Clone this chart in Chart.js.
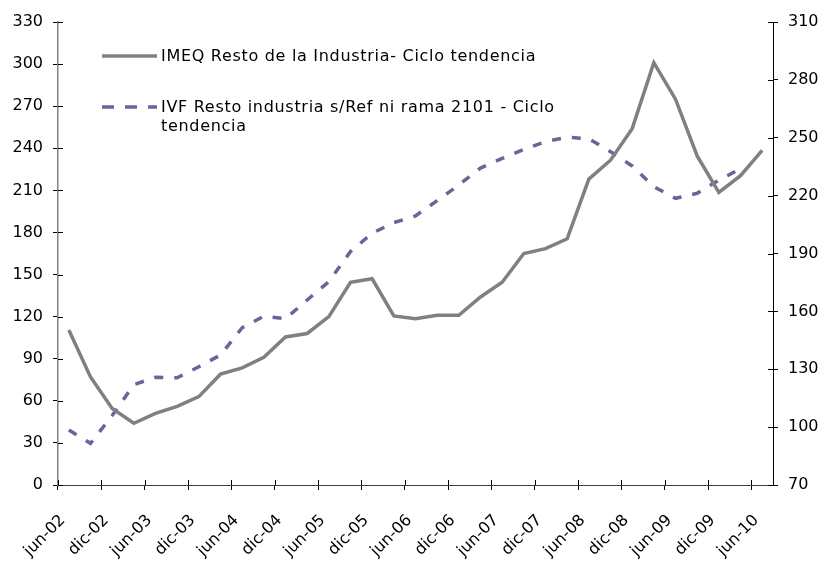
<!DOCTYPE html>
<html>
<head>
<meta charset="utf-8">
<script src="https://cdn.jsdelivr.net/npm/chart.js@4"></script>
<style>
  body { margin: 0; background: #fff; }
  #wrap { position: relative; width: 826px; height: 562px; }
  #legend { position: absolute; left: 102px; top: 46px; font-family: "DejaVu Sans", sans-serif; font-size: 16px; letter-spacing: 0.7px; color: #000; }
  .item { display: flex; align-items: flex-start; line-height: 19px; }
  .item svg { margin-top: 3px; margin-right: 4px; }
</style>
</head>
<body>
<div id="wrap">
  <canvas id="chart" width="826" height="562"></canvas>
  <div id="legend">
    <div class="item" style="margin-bottom: 32px;">
      <svg width="55" height="14"><line x1="0" y1="7" x2="55" y2="7" stroke="#808080" stroke-width="3.5"/></svg>
      <span>IMEQ Resto de la Industria- Ciclo tendencia</span>
    </div>
    <div class="item">
      <svg width="55" height="14"><line x1="0" y1="7" x2="55" y2="7" stroke="#66669a" stroke-width="3.5" stroke-dasharray="12 11"/></svg>
      <span>IVF Resto industria s/Ref ni rama 2101 - Ciclo<br>tendencia</span>
    </div>
  </div>
</div>
<script>
// quarterly categories, jun-02 .. jun-10
const quarters = [
  "jun-02", "sep-02", "dic-02", "mar-03", "jun-03", "sep-03", "dic-03", "mar-04",
  "jun-04", "sep-04", "dic-04", "mar-05", "jun-05", "sep-05", "dic-05", "mar-06",
  "jun-06", "sep-06", "dic-06", "mar-07", "jun-07", "sep-07", "dic-07", "mar-08",
  "jun-08", "sep-08", "dic-08", "mar-09", "jun-09", "sep-09", "dic-09", "mar-10",
  "jun-10"
];

// IMEQ (left axis)
const imeq = [
  110.5, 77, 54.5, 44, 51, 56, 63, 79, 83.5, 91, 105.5, 108, 120, 144.5, 147, 120.5,
  118.5, 121, 121, 134, 144.5, 165, 168.5, 175.5, 218, 231.5, 254, 301, 275, 234.5,
  208.5, 220.5, 238.5
];

// IVF (right axis)
const ivf = [
  98.5, 91.6, 106, 122, 125.8, 125.6, 131.3, 137.4, 151.5, 157.5, 156.2, 165.9, 175.4,
  191, 200.5, 206, 209.5, 217.4, 225.5, 234.3, 239.3, 244, 248, 250.3, 249.5, 242.8,
  235.4, 224.6, 218.6, 221.2, 228, 234, null
];

const leftTicks = { min: 0, max: 330, step: 30 };
const rightTicks = { min: 70, max: 310, step: 30 };

const font = { family: "DejaVu Sans", size: 16 };

// tick marks that cross the axis line (inside half)
const crossTicks = {
  id: "crossTicks",
  afterDraw(chart) {
    const c = chart.ctx;
    const a = chart.chartArea;
    c.save();
    c.lineWidth = 1;
    c.strokeStyle = "#000";
    chart.scales.y.ticks.forEach(t => {
      const y = Math.round(chart.scales.y.getPixelForValue(t.value)) + 0.5;
      c.beginPath(); c.moveTo(a.left, y); c.lineTo(a.left + 5, y); c.stroke();
    });
    chart.scales.y2.ticks.forEach(t => {
      const y = Math.round(chart.scales.y2.getPixelForValue(t.value)) + 0.5;
      c.beginPath(); c.moveTo(a.right - 5, y); c.lineTo(a.right, y); c.stroke();
    });
    const xs = chart.scales.x;
    const half = (xs.getPixelForValue(1) - xs.getPixelForValue(0)) / 2;
    for (let i = 0; i < quarters.length; i += 2) {
      const x = Math.round(xs.getPixelForValue(i) - half) + 0.5;
      c.beginPath(); c.moveTo(x, a.bottom - 5); c.lineTo(x, a.bottom); c.stroke();
    }
    c.restore();
  }
};

new Chart(document.getElementById("chart"), {
  type: "line",
  data: {
    labels: quarters,
    datasets: [
      {
        label: "IMEQ Resto de la Industria- Ciclo tendencia",
        data: imeq,
        yAxisID: "y",
        borderColor: "#808080",
        borderWidth: 3.5,
        pointRadius: 0,
        tension: 0
      },
      {
        label: "IVF Resto industria s/Ref ni rama 2101 - Ciclo tendencia",
        data: ivf,
        yAxisID: "y2",
        borderColor: "#66669a",
        borderWidth: 3.5,
        borderDash: [9, 11],
        pointRadius: 0,
        tension: 0
      }
    ]
  },
  options: {
    responsive: false,
    animation: false,
    layout: { padding: { top: 22 } },
    plugins: { legend: { display: false }, tooltip: { enabled: false } },
    scales: {
      x: {
        offset: true,
        grid: {
          offset: true,
          drawOnChartArea: false,
          tickLength: 5,
          color: ctx => (ctx.index !== undefined && ctx.index % 2 === 0) ? "#000" : "rgba(0,0,0,0)"
        },
        border: { color: "#404040", width: 1 },
        ticks: {
          autoSkip: false,
          maxRotation: 45,
          minRotation: 45,
          padding: 21,
          labelOffset: -6,
          color: "#000",
          font: font,
          callback: (v, i) => i % 2 === 0 ? quarters[i] : ""
        },
        afterFit: s => { s.height = 77; }
      },
      y: {
        position: "left",
        min: leftTicks.min,
        max: leftTicks.max,
        grid: { drawOnChartArea: false, tickLength: 5, color: "#000" },
        border: { color: "#808080", width: 1.5 },
        ticks: { stepSize: leftTicks.step, padding: 10, color: "#000", font: font },
        afterFit: s => { s.width = 58; }
      },
      y2: {
        position: "right",
        min: rightTicks.min,
        max: rightTicks.max,
        grid: { drawOnChartArea: false, tickLength: 5, color: "#000" },
        border: { color: "#000", width: 1 },
        ticks: { stepSize: rightTicks.step, padding: 10, color: "#000", font: font },
        afterFit: s => { s.width = 53; }
      }
    }
  },
  plugins: [crossTicks]
});
</script>
</body>
</html>
